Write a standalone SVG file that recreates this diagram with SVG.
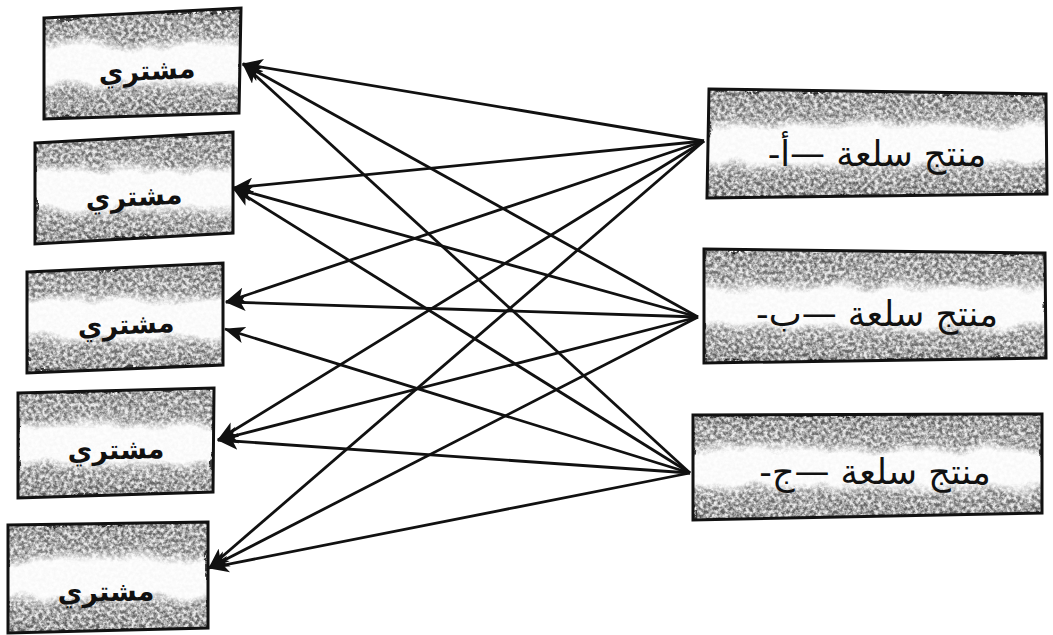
<svg xmlns="http://www.w3.org/2000/svg" width="1053" height="635" viewBox="0 0 1053 635">
  <defs>
    <!-- grey bands top and bottom, clear band through the middle -->
    <linearGradient id="band" x1="0" y1="0" x2="0" y2="1">
      <stop offset="0" stop-color="#a2a2a2"/>
      <stop offset="0.27" stop-color="#b2b2b2"/>
      <stop offset="0.37" stop-color="#fbfbfb"/>
      <stop offset="0.65" stop-color="#fbfbfb"/>
      <stop offset="0.75" stop-color="#b2b2b2"/>
      <stop offset="1" stop-color="#9e9e9e"/>
    </linearGradient>
    <!-- blotchy print texture, strongest in the grey bands -->
    <filter id="grain" x="-5%" y="-5%" width="110%" height="110%" color-interpolation-filters="sRGB">
      <feTurbulence type="fractalNoise" baseFrequency="0.035" numOctaves="2" seed="3" result="w"/>
      <feDisplacementMap in="SourceGraphic" in2="w" scale="16" xChannelSelector="R" yChannelSelector="G" result="wavy"/>
      <feTurbulence type="fractalNoise" baseFrequency="0.28" numOctaves="3" seed="7" result="t"/>
      <feColorMatrix in="t" type="matrix" values="2.4 0 0 0 -0.7  2.4 0 0 0 -0.7  2.4 0 0 0 -0.7  0 0 0 0 1" result="n"/>
      <feComposite in="wavy" in2="n" operator="arithmetic" k1="-1.5" k2="1.75" k3="1.5" k4="-0.75" result="mix"/>
      <feComposite in="mix" in2="SourceGraphic" operator="in"/>
    </filter>
    <marker id="arrow" viewBox="0 0 20 16" refX="19" refY="8" markerWidth="21" markerHeight="17" markerUnits="userSpaceOnUse" orient="auto">
      <path d="M0,0 L20,8 L0,16 L5,8 Z" fill="#111"/>
    </marker>
  </defs>
  <style>
    .box { fill: url(#band); filter: url(#grain); }
    .frame { fill: none; stroke: #111; stroke-width: 3; stroke-linejoin: miter; }
    .buyer { font-family: "DejaVu Sans", sans-serif; font-size: 27px; font-weight: bold; fill: #111; text-anchor: middle; direction: rtl; }
    .maker { font-family: "DejaVu Sans", sans-serif; font-size: 35px; fill: #111; text-anchor: middle; direction: rtl; }
    .link { stroke: #111; stroke-width: 2.8; fill: none; marker-end: url(#arrow); }
  </style>
  <rect width="1053" height="635" fill="#fff"/>

  <!-- buyers -->
  <g id="buyer-1">
    <polygon class="box" points="44,18 241,8 239,113 44,119"/>
    <polygon class="frame" points="44,18 241,8 239,113 44,119"/>
    <text class="buyer" x="147" y="80" transform="rotate(-3 147 72)">مشتري</text>
  </g>
  <g id="buyer-2">
    <polygon class="box" points="35,143 233,132 233,233 35,244"/>
    <polygon class="frame" points="35,143 233,132 233,233 35,244"/>
    <text class="buyer" x="134" y="206" transform="rotate(-3 134 198)">مشتري</text>
  </g>
  <g id="buyer-3">
    <polygon class="box" points="27,272 223,263 223,365 27,373"/>
    <polygon class="frame" points="27,272 223,263 223,365 27,373"/>
    <text class="buyer" x="126" y="334" transform="rotate(-2.5 126 326)">مشتري</text>
  </g>
  <g id="buyer-4">
    <polygon class="box" points="18,393 214,388 213,492 18,498"/>
    <polygon class="frame" points="18,393 214,388 213,492 18,498"/>
    <text class="buyer" x="116" y="459" transform="rotate(-1.5 116 451)">مشتري</text>
  </g>
  <g id="buyer-5">
    <polygon class="box" points="8,525 208,522 208,628 8,633"/>
    <polygon class="frame" points="8,525 208,522 208,628 8,633"/>
    <text class="buyer" x="106" y="601" transform="rotate(-1 106 593)">مشتري</text>
  </g>

  <!-- producers -->
  <g id="producer-a">
    <polygon class="box" points="709,89 1046,94 1047,194 707,198"/>
    <polygon class="frame" points="709,89 1046,94 1047,194 707,198"/>
    <text class="maker" x="877" y="166">منتج سلعة —أ-</text>
  </g>
  <g id="producer-b">
    <polygon class="box" points="704,249 1045,253 1046,358 704,363"/>
    <polygon class="frame" points="704,249 1045,253 1046,358 704,363"/>
    <text class="maker" x="877" y="326">منتج سلعة —ب-</text>
  </g>
  <g id="producer-c">
    <polygon class="box" points="693,415 1042,414 1042,513 693,520"/>
    <polygon class="frame" points="693,415 1042,414 1042,513 693,520"/>
    <text class="maker" x="875" y="484">منتج سلعة —ج-</text>
  </g>

  <!-- every producer supplies every buyer -->
  <g id="connectors">
    <line class="link" x1="704" y1="141" x2="243" y2="64"/>
    <line class="link" x1="704" y1="141" x2="233" y2="188"/>
    <line class="link" x1="704" y1="141" x2="226" y2="302"/>
    <line class="link" x1="704" y1="141" x2="218" y2="440"/>
    <line class="link" x1="704" y1="141" x2="209" y2="568"/>
    <line class="link" x1="698" y1="317" x2="243" y2="64"/>
    <line class="link" x1="698" y1="317" x2="233" y2="188"/>
    <line class="link" x1="698" y1="317" x2="226" y2="302"/>
    <line class="link" x1="698" y1="317" x2="218" y2="440"/>
    <line class="link" x1="698" y1="317" x2="209" y2="568"/>
    <line class="link" x1="690" y1="473" x2="243" y2="64"/>
    <line class="link" x1="690" y1="473" x2="233" y2="188"/>
    <line class="link" x1="690" y1="473" x2="225" y2="329"/>
    <line class="link" x1="690" y1="473" x2="218" y2="440"/>
    <line class="link" x1="690" y1="473" x2="209" y2="568"/>
  </g>
</svg>
